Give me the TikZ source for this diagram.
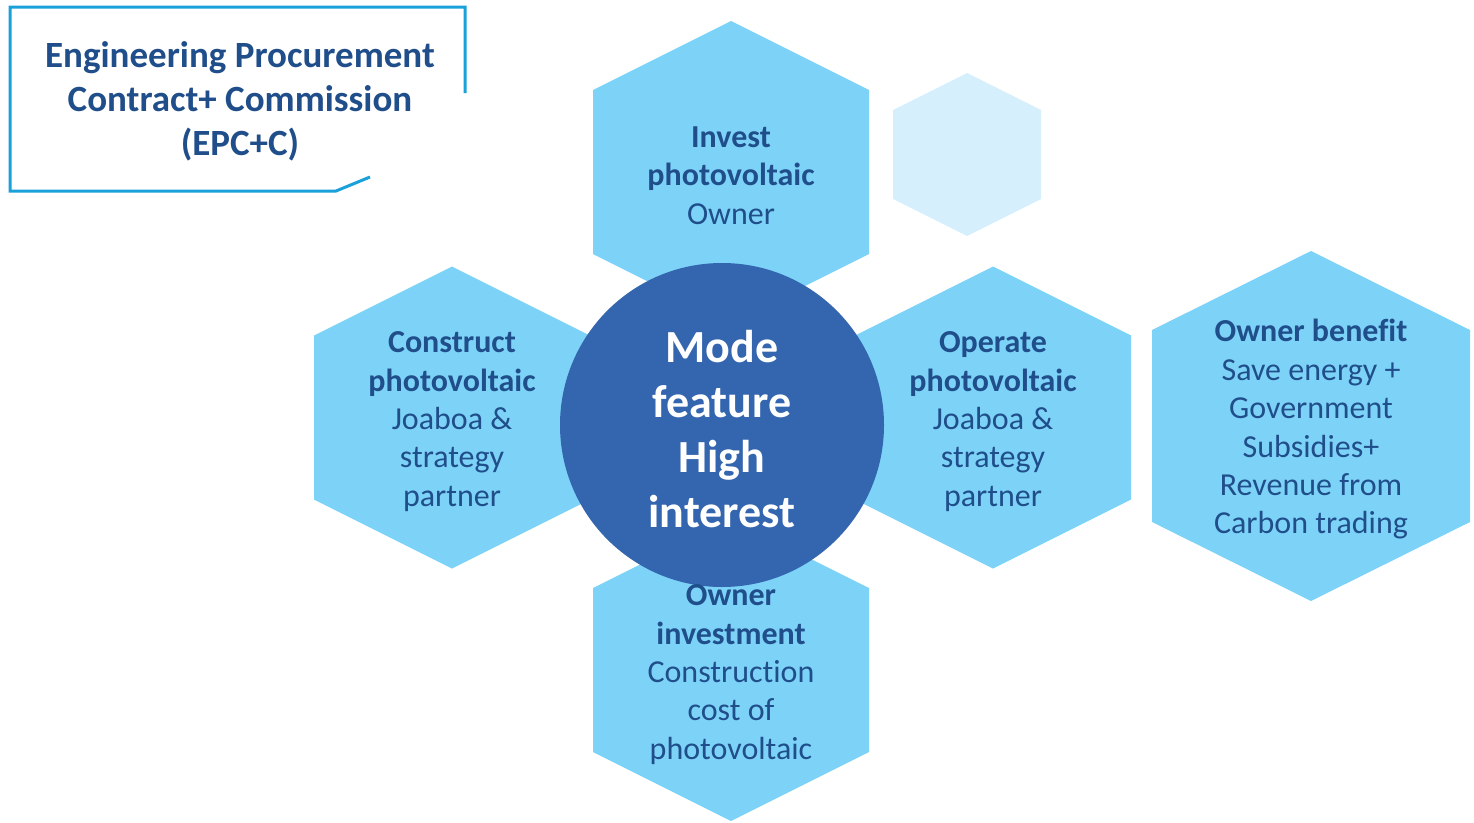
\documentclass[tikz,border=0pt]{standalone}
\usepackage{fontspec}
\setmainfont{Carlito}[Ligatures=NoCommon]
\definecolor{hexc}{HTML}{7DD3F7}
\definecolor{hexlight}{HTML}{D5F0FC}
\definecolor{circc}{HTML}{3465AF}
\definecolor{textc}{HTML}{1F4E8A}
\definecolor{framec}{HTML}{1AA0DA}
\newcommand\myhex[6]{\fill[#6] (#1,#2-#5) -- (#1+#3,#2-#4) -- (#1+#3,#2+#4) -- (#1,#2+#5) -- (#1-#3,#2+#4) -- (#1-#3,#2-#4) -- cycle;}
\tikzset{
  hextext/.style={text=textc, align=center, inner sep=0pt, font=\fontsize{32}{38.4}\selectfont},
  titletext/.style={text=textc, align=center, inner sep=0pt, font=\bfseries\fontsize{37}{44}\selectfont},
  centre/.style={circle, fill=circc, minimum size=324pt, inner sep=0pt, text=white, align=center, font=\bfseries\fontsize{46}{55}\selectfont},
  frame/.style={draw=framec, line width=3pt}
}
\begin{document}
\begin{tikzpicture}[x=1pt,y=-1pt]
\useasboundingbox (0,0) rectangle (1474,822);
% hexagons
\myhex{731}{172}{138}{82}{151}{hexc}
\myhex{452}{417.5}{138}{82}{151}{hexc}
\myhex{993}{417.5}{138}{82}{151}{hexc}
\myhex{731}{670}{138}{82}{151}{hexc}
\myhex{1311}{426}{159}{96}{175}{hexc}
\myhex{967}{154.5}{74}{44.5}{81.5}{hexlight}
% centre circle
\node[centre] (centre) at (722,425) {};
\node[text=white, align=center, inner sep=0pt, font=\bfseries\fontsize{46}{55}\selectfont] (centretext) at (722,429) {Mode\\feature\\High\\interest};
% hexagon texts
\node[hextext] (invest) at (731,175.5) {\textbf{Invest}\\\textbf{photovoltaic}\\Owner};
\node[hextext] (construct) at (452,421.5) {\textbf{Construct}\\\textbf{photovoltaic}\\Joaboa \&\\strategy\\partner};
\node[hextext] (operate) at (993,421.5) {\textbf{Operate}\\\textbf{photovoltaic}\\Joaboa \&\\strategy\\partner};
\node[hextext] (ownerinv) at (731,674.5) {\textbf{Owner}\\\textbf{investment}\\Construction\\cost of\\photovoltaic};
\node[hextext] (benefit) at (1311,429.5) {\textbf{Owner benefit}\\Save energy +\\Government\\Subsidies+\\Revenue from\\Carbon trading};
% title frame
\draw[frame] (465,93) -- (465,7) -- (10,7) -- (10,191) -- (336,191) -- (370,177);
\node[titletext] (title) at (240,101) {Engineering Procurement\\Contract+ Commission\\(EPC+C)};
\end{tikzpicture}
\end{document}
